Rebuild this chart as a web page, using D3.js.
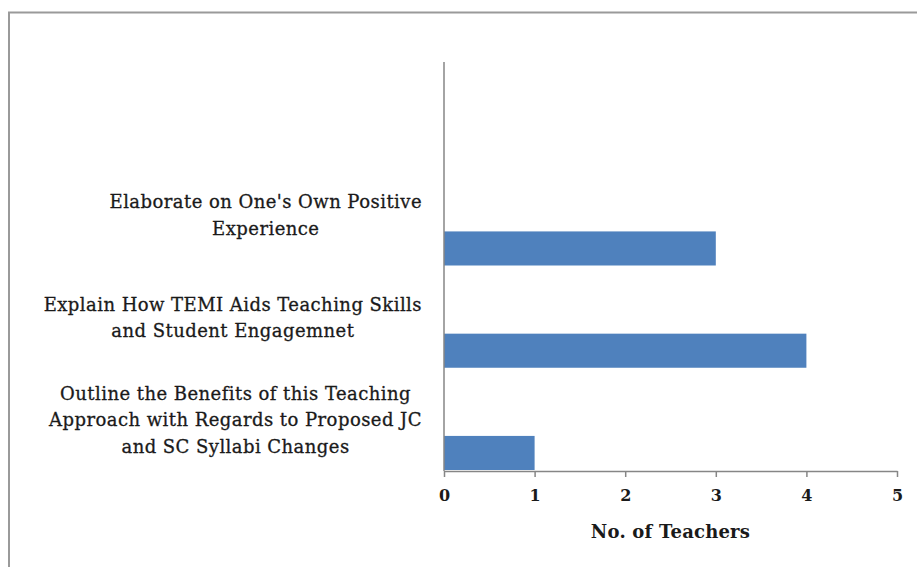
<!DOCTYPE html>
<html>
<head>
<meta charset="utf-8">
<script src="https://cdn.jsdelivr.net/npm/d3@7"></script>
<style>
  html, body { margin: 0; padding: 0; background: #fff; }
  svg { display: block; }
</style>
</head>
<body>
<svg id="chart" width="917" height="567"></svg>
<script>
// ---- data ----
const categories = [
  "",
  "Elaborate on One's Own Positive|Experience",
  "Explain How TEMI Aids Teaching Skills|and Student Engagemnet",
  "Outline the Benefits of this Teaching|Approach with Regards to Proposed JC|and SC Syllabi Changes"
];
const values = [null, 3, 4, 1];
const xTicks = [0, 1, 2, 3, 4, 5];
const xTitle = "No. of Teachers";

// ---- layout ----
const W = 917, H = 567;
const plot = { left: 444, right: 897, top: 62, bottom: 471 };
const fontFamily = "'DejaVu Serif', 'Liberation Serif', serif";
const textColor = "#1a1a1a";
const barColor = "#4F81BD";
const axisColor = "#868686";

const svg = d3.select("#chart");

// outer border (extends past right/bottom edges as in reference)
svg.append("rect")
  .attr("x", 9).attr("y", 12.5)
  .attr("width", W + 10).attr("height", H + 10)
  .attr("fill", "none").attr("stroke", "#9a9a9a").attr("stroke-width", 2);

const x = d3.scaleLinear().domain([0, 5]).range([plot.left, plot.right]);
const y = d3.scaleBand().domain(categories.map((c, i) => i)).range([plot.top, plot.bottom]).paddingInner(0).paddingOuter(0);

// bars (occupy the lowest third of each category band)
const barH = y.bandwidth() / 3;
svg.append("g").selectAll("rect")
  .data(values.map((v, i) => ({ v, i })).filter(d => d.v != null))
  .join("rect")
  .attr("x", x(0))
  .attr("y", d => y(d.i) + y.bandwidth() - barH - 1)
  .attr("width", d => x(d.v) - x(0))
  .attr("height", barH)
  .attr("fill", barColor);

// vertical axis line
svg.append("line")
  .attr("x1", plot.left).attr("x2", plot.left)
  .attr("y1", plot.top).attr("y2", plot.bottom)
  .attr("stroke", axisColor).attr("stroke-width", 1.5);

// bottom axis
const xAxis = d3.axisBottom(x).tickValues(xTicks).tickFormat(d3.format("d")).tickSize(6).tickSizeOuter(0);
const gx = svg.append("g").attr("transform", `translate(0,${plot.bottom})`).call(xAxis);
gx.select(".domain").attr("stroke", axisColor).attr("stroke-width", 1.5);
gx.selectAll(".tick line").attr("stroke", axisColor).attr("stroke-width", 1.5);
gx.selectAll(".tick text")
  .attr("y", 19)
  .attr("fill", textColor)
  .style("font-family", fontFamily)
  .style("font-size", "16px")
  .style("font-weight", "bold");

// x title
svg.append("text")
  .attr("x", (plot.left + plot.right) / 2)
  .attr("y", 538)
  .attr("text-anchor", "middle")
  .attr("fill", textColor)
  .style("font-family", fontFamily)
  .style("font-size", "18px")
  .style("font-weight", "bold")
  .style("letter-spacing", "0.2px")
  .text(xTitle);

// category labels: centered blocks, widest line right-aligned at x=422
const lineH = 26.5;
const labelRight = 422;
categories.forEach((c, i) => {
  if (!c) return;
  const lines = c.split("|");
  const g = svg.append("g");
  const cy = y(i) + y.bandwidth() / 2;
  const texts = lines.map((ln, k) => g.append("text")
    .attr("y", cy + (k - (lines.length - 1) / 2) * lineH)
    .attr("dy", "0.35em")
    .attr("text-anchor", "middle")
    .attr("fill", textColor)
    .attr("stroke", textColor)
    .attr("stroke-width", 0.3)
    .style("font-family", fontFamily)
    .style("font-size", "18px")
    .style("letter-spacing", "0.45px")
    .text(ln));
  const maxW = d3.max(texts, t => t.node().getComputedTextLength());
  texts.forEach(t => t.attr("x", labelRight - maxW / 2));
});
</script>
</body>
</html>
